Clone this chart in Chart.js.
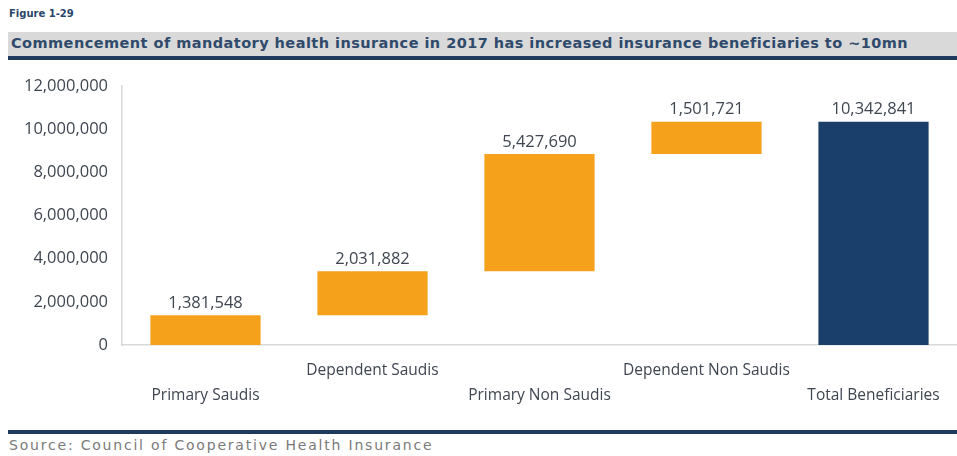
<!DOCTYPE html>
<html>
<head>
<meta charset="utf-8">
<script src="https://cdn.jsdelivr.net/npm/chart.js@4.4.1/dist/chart.umd.min.js"></script>
<style>
  html, body { margin: 0; padding: 0; background: #ffffff; }
  body { width: 957px; height: 456px; position: relative; overflow: hidden; font-family: "DejaVu Sans", sans-serif; }
  #figura { position: absolute; left: 9px; top: 8px; font-size: 10px; font-weight: bold; color: #2a4668; }
  #titulo { position: absolute; left: 8px; top: 32px; width: 949px; height: 24px; background: #d9d9d9;
            border-bottom: 4px solid #1f3a5c; box-sizing: content-box; }
  #titulo span { position: absolute; left: 3px; top: 3px; font-size: 14.5px; font-weight: bold; color: #2f4a6b;
                 white-space: nowrap; letter-spacing: 0.45px; }
  #area { position: absolute; left: 0; top: 62px; width: 957px; height: 362px; }
  #fonte-linha { position: absolute; left: 8px; top: 430px; width: 949px; height: 4px; background: #1f3a5c; }
  #fonte { position: absolute; left: 9px; top: 437px; font-size: 14px; color: #7a7a7a; white-space: nowrap; letter-spacing: 1.8px; }
</style>
</head>
<body>
<div id="figura">Figure 1-29</div>
<div id="titulo"><span>Commencement of mandatory health insurance in 2017 has increased insurance beneficiaries to ~10mn</span></div>
<div id="area"><canvas id="graficoCascata"></canvas></div>
<div id="fonte-linha"></div>
<div id="fonte">Source: Council of Cooperative Health Insurance</div>

<script>
// Categorias e valores de cada etapa da cascata
const categorias = ['Primary Saudis', 'Dependent Saudis', 'Primary Non Saudis', 'Dependent Non Saudis', 'Total Beneficiaries'];
const valores = [1381548, 2031882, 5427690, 1501721, 10342841];
const ehTotal = [false, false, false, false, true];
const ticksY = [0, 2000000, 4000000, 6000000, 8000000, 10000000, 12000000];

// Rótulos alternados em duas linhas
const rotulos = categorias.map((c, i) => i % 2 === 0 ? ['', c] : [c, '']);

// Intervalos flutuantes: cada barra começa onde a anterior terminou
let acumulado = 0;
const intervalos = valores.map((v, i) => {
    if (ehTotal[i]) return [0, v];
    const inicio = acumulado;
    acumulado += v;
    return [inicio, acumulado];
});
const cores = ehTotal.map(t => t ? '#1b3f6b' : '#f5a11c');

const fmt = n => n.toLocaleString('en-US');

// Plugin simples para escrever o valor acima de cada barra
const rotuloValor = {
    id: 'rotuloValor',
    afterDatasetsDraw(chart) {
        const ctx = chart.ctx;
        const meta = chart.getDatasetMeta(0);
        ctx.save();
        ctx.font = '16.5px "Open Sans", sans-serif';
        ctx.fillStyle = '#3f4650';
        ctx.textAlign = 'center';
        ctx.textBaseline = 'bottom';
        meta.data.forEach((bar, i) => {
            const topo = Math.min(bar.y, bar.base);
            ctx.fillText(fmt(valores[i]), bar.x, topo - 4);
        });
        ctx.restore();
    }
};

const ctx = document.getElementById('graficoCascata').getContext('2d');
new Chart(ctx, {
    type: 'bar',
    data: {
        labels: rotulos,
        datasets: [{
            data: intervalos,
            backgroundColor: cores,
            borderWidth: 0,
            barPercentage: 0.66,
            categoryPercentage: 1
        }]
    },
    options: {
        responsive: true,
        maintainAspectRatio: false,
        animation: false,
        layout: { padding: { top: 20, right: 0, bottom: 0, left: 0 } },
        scales: {
            x: {
                grid: { display: false, drawTicks: false },
                border: { color: '#d9d9d9', width: 1.5 },
                ticks: {
                    color: '#3f4650',
                    font: { family: 'Open Sans', size: 15.5, lineHeight: 1.6 },
                    padding: 13,
                    maxRotation: 0,
                    autoSkip: false
                },
                afterFit(scale) { scale.height = 79; }
            },
            y: {
                min: 0,
                max: 12000000,
                afterBuildTicks(scale) { scale.ticks = ticksY.map(v => ({ value: v })); },
                grid: { display: false, drawTicks: false },
                border: { color: '#d9d9d9', width: 1.5 },
                ticks: {
                    color: '#3f4650',
                    font: { family: 'Open Sans', size: 16.5 },
                    padding: 14,
                    callback: v => fmt(v)
                },
                afterFit(scale) { scale.width = 122; }
            }
        },
        plugins: {
            legend: { display: false },
            tooltip: { enabled: false }
        }
    },
    plugins: [rotuloValor]
});
</script>
</body>
</html>
